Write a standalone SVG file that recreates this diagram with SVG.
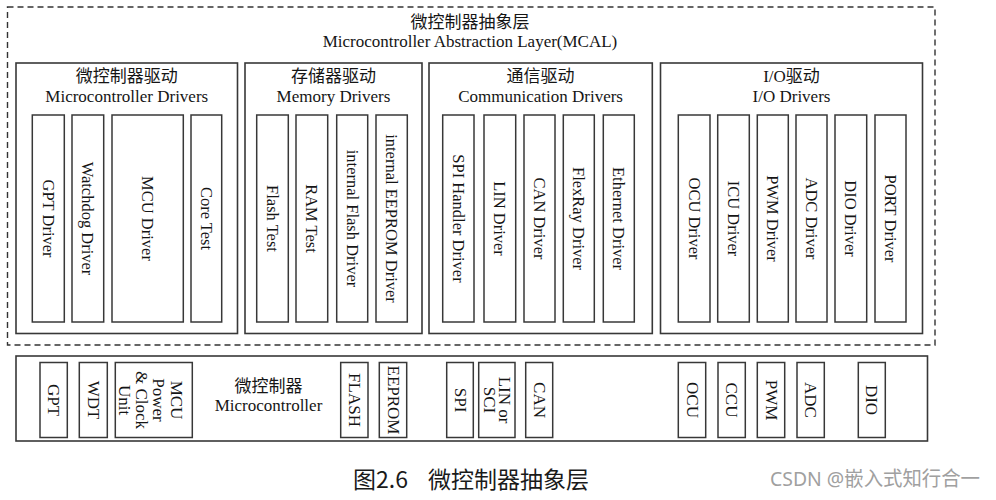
<svg xmlns="http://www.w3.org/2000/svg" width="996" height="500" viewBox="0 0 996 500">
<style>
.bx{fill:none;stroke:#383838;stroke-width:1.6}
.ib{fill:#fff;stroke:#383838;stroke-width:1.5}
.dash{fill:none;stroke:#333;stroke-width:1.4;stroke-dasharray:6 4}
text{font-family:"Liberation Serif","Noto Sans CJK SC",serif;fill:#151515}
.h{font-size:17px;text-anchor:middle}
.v{font-size:16.5px;text-anchor:middle;dominant-baseline:central}
.vl{font-size:17px;text-anchor:middle;dominant-baseline:central}
.cap{font-family:"Noto Sans CJK SC","Noto Sans",sans-serif;font-size:23px;fill:#1a1a1a}
.wm{font-family:"Noto Sans","Noto Sans CJK SC",sans-serif;font-size:20px;fill:#a0a0a0}
</style>
<rect width="996" height="500" fill="#fff"/>

<g id="mcal">
<rect class="dash" x="7.5" y="7" width="927.5" height="338"/>
<text class="h" x="470" y="28">微控制器抽象层</text>
<text class="h" x="470" y="47">Microcontroller Abstraction Layer(MCAL)</text>
</g>

<g id="mcu-drivers">
<rect class="bx" x="16" y="63" width="221.5" height="270.5"/>
<text class="h" x="126.75" y="82">微控制器驱动</text>
<text class="h" x="126.75" y="102">Microcontroller Drivers</text>
<g id="gpt-driver"><rect class="ib" x="32.3" y="115" width="32" height="207"/><text class="v" transform="translate(48.3,218.5) rotate(90)">GPT Driver</text></g>
<g id="watchdog-driver"><rect class="ib" x="72" y="115" width="31.7" height="207"/><text class="v" transform="translate(87.85,218.5) rotate(90)">Watchdog Driver</text></g>
<g id="mcu-driver"><rect class="ib" x="112" y="115" width="71.3" height="207"/><text class="v" transform="translate(147.65,218.5) rotate(90)">MCU Driver</text></g>
<g id="core-test"><rect class="ib" x="191" y="115" width="30.7" height="207"/><text class="v" transform="translate(206.35,218.5) rotate(90)">Core Test</text></g>
</g>

<g id="memory-drivers">
<rect class="bx" x="245" y="63" width="177" height="270.5"/>
<text class="h" x="333.5" y="82">存储器驱动</text>
<text class="h" x="333.5" y="102">Memory Drivers</text>
<g id="flash-test"><rect class="ib" x="256.7" y="115" width="31.6" height="207"/><text class="v" transform="translate(272.5,218.5) rotate(90)">Flash Test</text></g>
<g id="ram-test"><rect class="ib" x="296" y="115" width="31.7" height="207"/><text class="v" transform="translate(311.85,218.5) rotate(90)">RAM Test</text></g>
<g id="int-flash-driver"><rect class="ib" x="336.7" y="115" width="31" height="207"/><text class="v" transform="translate(352.2,218.5) rotate(90)">internal Flash Driver</text></g>
<g id="int-eeprom-driver"><rect class="ib" x="376" y="115" width="31.3" height="207"/><text class="v" transform="translate(391.65,218.5) rotate(90)">internal EEPROM Driver</text></g>
</g>

<g id="comm-drivers">
<rect class="bx" x="429" y="63" width="223.3" height="270.5"/>
<text class="h" x="540.6" y="82">通信驱动</text>
<text class="h" x="540.6" y="102">Communication Drivers</text>
<g id="spi-handler-driver"><rect class="ib" x="442.7" y="115" width="31.3" height="207"/><text class="v" transform="translate(458.35,218.5) rotate(90)">SPI Handler Driver</text></g>
<g id="lin-driver"><rect class="ib" x="484" y="115" width="31.7" height="207"/><text class="v" transform="translate(499.85,218.5) rotate(90)">LIN Driver</text></g>
<g id="can-driver"><rect class="ib" x="524" y="115" width="31" height="207"/><text class="v" transform="translate(539.5,218.5) rotate(90)">CAN Driver</text></g>
<g id="flexray-driver"><rect class="ib" x="563.3" y="115" width="31" height="207"/><text class="v" transform="translate(578.8,218.5) rotate(90)">FlexRay Driver</text></g>
<g id="ethernet-driver"><rect class="ib" x="603.3" y="115" width="31" height="207"/><text class="v" transform="translate(618.8,218.5) rotate(90)">Ethernet Driver</text></g>
</g>

<g id="io-drivers">
<rect class="bx" x="660.5" y="63" width="262" height="270.5"/>
<text class="h" x="791.5" y="82">I/O驱动</text>
<text class="h" x="791.5" y="102">I/O Drivers</text>
<g id="ocu-driver"><rect class="ib" x="678.3" y="115" width="31.7" height="207"/><text class="v" transform="translate(694.15,218.5) rotate(90)">OCU Driver</text></g>
<g id="icu-driver"><rect class="ib" x="717.7" y="115" width="31.6" height="207"/><text class="v" transform="translate(733.5,218.5) rotate(90)">ICU Driver</text></g>
<g id="pwm-driver"><rect class="ib" x="757.3" y="115" width="31" height="207"/><text class="v" transform="translate(772.8,218.5) rotate(90)">PWM Driver</text></g>
<g id="adc-driver"><rect class="ib" x="796" y="115" width="31" height="207"/><text class="v" transform="translate(811.5,218.5) rotate(90)">ADC Driver</text></g>
<g id="dio-driver"><rect class="ib" x="835" y="115" width="31.7" height="207"/><text class="v" transform="translate(850.85,218.5) rotate(90)">DIO Driver</text></g>
<g id="port-driver"><rect class="ib" x="875" y="115" width="31" height="207"/><text class="v" transform="translate(890.5,218.5) rotate(90)">PORT Driver</text></g>
</g>

<g id="microcontroller">
<rect class="bx" x="16" y="356" width="911.5" height="85"/>
<text class="h" x="268.5" y="392">微控制器</text>
<text class="h" x="268.5" y="411">Microcontroller</text>
<g id="hw-gpt"><rect class="ib" x="40" y="362.5" width="27.3" height="75"/><text class="vl" transform="translate(53.65,400) rotate(90)">GPT</text></g>
<g id="hw-wdt"><rect class="ib" x="79.3" y="362.5" width="28" height="75"/><text class="vl" transform="translate(93.3,400) rotate(90)">WDT</text></g>
<g id="hw-mcu"><rect class="ib" x="115.3" y="362.5" width="77" height="75"/>
<text class="vl" transform="translate(176,400) rotate(90)">MCU</text>
<text class="vl" transform="translate(158.7,400) rotate(90)">Power</text>
<text class="vl" transform="translate(141.3,400) rotate(90)">&amp; Clock</text>
<text class="vl" transform="translate(124,400) rotate(90)">Unit</text></g>
<g id="hw-flash"><rect class="ib" x="340.7" y="362.5" width="27.3" height="75"/><text class="vl" transform="translate(354.35,400) rotate(90)">FLASH</text></g>
<g id="hw-eeprom"><rect class="ib" x="379.3" y="362.5" width="27.4" height="75"/><text class="vl" transform="translate(393,400) rotate(90)">EEPROM</text></g>
<g id="hw-spi"><rect class="ib" x="446.7" y="362.5" width="26.6" height="75"/><text class="vl" transform="translate(460,400) rotate(90)">SPI</text></g>
<g id="hw-lin-sci"><rect class="ib" x="478.7" y="362.5" width="36.3" height="75"/>
<text class="vl" transform="translate(504,400) rotate(90)">LIN or</text>
<text class="vl" transform="translate(489,400) rotate(90)">SCI</text></g>
<g id="hw-can"><rect class="ib" x="525.7" y="362.5" width="27" height="75"/><text class="vl" transform="translate(539.2,400) rotate(90)">CAN</text></g>
<g id="hw-ocu"><rect class="ib" x="678.3" y="362.5" width="27.4" height="75"/><text class="vl" transform="translate(692,400) rotate(90)">OCU</text></g>
<g id="hw-ccu"><rect class="ib" x="718" y="362.5" width="27.3" height="75"/><text class="vl" transform="translate(731.65,400) rotate(90)">CCU</text></g>
<g id="hw-pwm"><rect class="ib" x="757.3" y="362.5" width="27.4" height="75"/><text class="vl" transform="translate(771,400) rotate(90)">PWM</text></g>
<g id="hw-adc"><rect class="ib" x="797" y="362.5" width="27.3" height="75"/><text class="vl" transform="translate(810.65,400) rotate(90)">ADC</text></g>
<g id="hw-dio"><rect class="ib" x="858.3" y="362.5" width="27" height="75"/><text class="vl" transform="translate(871.8,400) rotate(90)">DIO</text></g>
</g>

<g id="connectors"></g>

<text class="cap" y="488"><tspan x="353">图2.6　</tspan><tspan x="428">微控制器抽象层</tspan></text>
<text class="wm" x="770" y="486" textLength="210" lengthAdjust="spacingAndGlyphs">CSDN @嵌入式知行合一</text>
</svg>
